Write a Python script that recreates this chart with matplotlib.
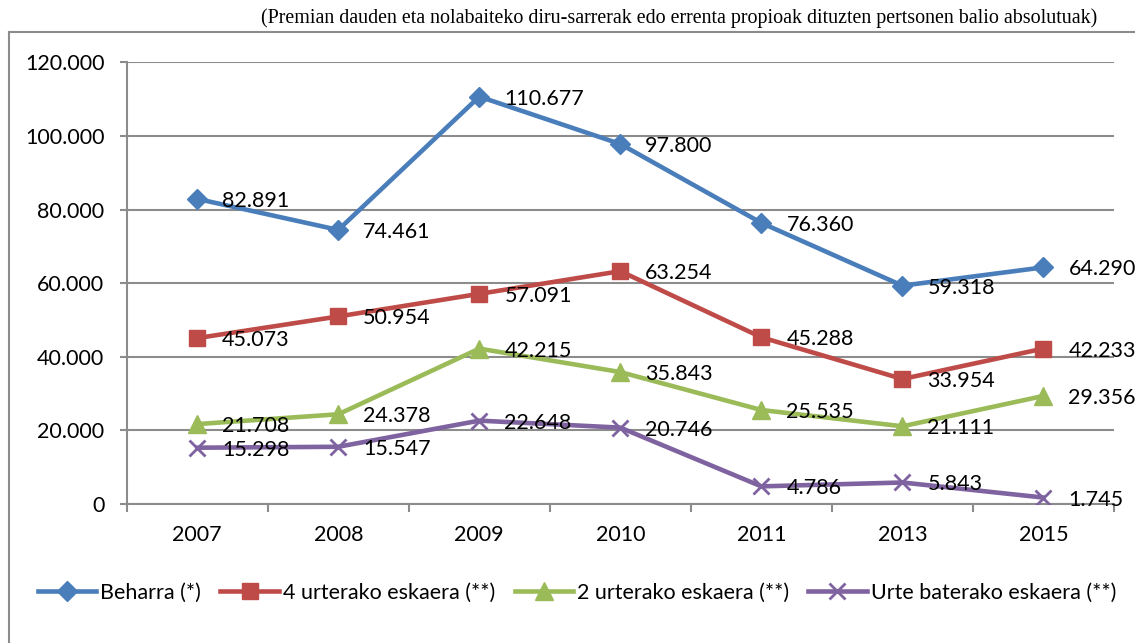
import matplotlib
matplotlib.use("Agg")
import matplotlib.pyplot as plt
from matplotlib.lines import Line2D
import matplotlib.ticker as ticker

years = ["2007", "2008", "2009", "2010", "2011", "2013", "2015"]

beharra   = [82891, 74461, 110677, 97800, 76360, 59318, 64290]
urte4     = [45073, 50954, 57091, 63254, 45288, 33954, 42233]
urte2     = [21708, 24378, 42215, 35843, 25535, 21111, 29356]
urte1     = [15298, 15547, 22648, 20746, 4786, 5843, 1745]

series_names = ["Beharra (*)", "4 urterako eskaera (**)",
                "2 urterako eskaera (**)", "Urte baterako eskaera (**)"]

title = ("(Premian dauden eta nolabaiteko diru-sarrerak edo errenta propioak "
         "dituzten pertsonen balio absolutuak)")

BLUE   = "#4A7EBB"
RED    = "#BE4B48"
GREEN  = "#9BBB59"
PURPLE = "#7F62A0"
GRID   = "#8C8C8C"

FONT = "Lato"
FS = 15.5

W, H = 1135, 643
fig = plt.figure(figsize=(W / 100, H / 100), dpi=100)

def fx(px):
    return px / W

def fy(py):
    return 1 - py / H

ax = fig.add_axes([fx(126.7), fy(504), fx(1114) - fx(126.7), fy(62.3) - fy(504)])

x = list(range(len(years)))
styles = [
    (beharra, BLUE,   "D", 10),
    (urte4,   RED,    "s", 12),
    (urte2,   GREEN,  "^", 13),
    (urte1,   PURPLE, "x", 12),
]

handles = []
for (vals, col, mk, ms), name in zip(styles, series_names):
    h, = ax.plot(x, vals, color=col, linewidth=3.3, marker=mk, markersize=ms,
                 markeredgewidth=2 if mk == "x" else 1, markeredgecolor=col,
                 markerfacecolor=col, label=name, zorder=3,
                 solid_joinstyle="round")
    handles.append(h)
    for xi, v in zip(x, vals):
        lbl = f"{v:,}".replace(",", ".")
        ax.annotate(lbl, (xi, v), textcoords="offset pixels", xytext=(25, -2),
                    ha="left", va="center", fontsize=FS, family=FONT,
                    color="black", zorder=4)

ax.set_xlim(-0.5, len(years) - 0.5)
ax.set_ylim(0, 120000)
ax.set_yticks(range(0, 120001, 20000))
ax.yaxis.set_major_formatter(ticker.FuncFormatter(
    lambda v, p: f"{int(v):,}".replace(",", ".")))
ax.set_xticks(x)
ax.set_xticklabels(years)
ax.set_xticks([i - 0.5 for i in range(len(years) + 1)], minor=True)

ax.tick_params(axis="x", which="major", length=0, pad=15, labelsize=FS)
ax.tick_params(axis="x", which="minor", length=6, width=1.5, color=GRID,
               direction="out")
ax.tick_params(axis="y", which="major", length=5, width=1.5, color=GRID,
               pad=11, labelsize=FS)
for lab in ax.get_xticklabels() + ax.get_yticklabels():
    lab.set_family(FONT)

ax.yaxis.grid(True, color=GRID, linewidth=1.5)
ax.set_axisbelow(True)
for s in ["top", "right"]:
    ax.spines[s].set_visible(False)
for s in ["left", "bottom"]:
    ax.spines[s].set_color(GRID)
    ax.spines[s].set_linewidth(1.5)

# outer chart border (left and top edges only visible)
fig.add_artist(Line2D([fx(8.7), fx(8.7)], [0, fy(32)], color=GRID, linewidth=1.5))
fig.add_artist(Line2D([fx(8.7), 1], [fy(32), fy(32)], color=GRID, linewidth=1.5))

fig.text(fx(679), fy(18.5), title, ha="center", va="center",
         family="Liberation Serif", fontsize=14.4)

fig.legend(handles=handles, loc="center", bbox_to_anchor=(fx(577), fy(593)),
           ncol=4, frameon=False, prop={"family": FONT, "size": FS},
           handlelength=2.7, handletextpad=0.2, columnspacing=0.9,
           borderaxespad=0, borderpad=0)

fig.savefig("out.png", dpi=100)
